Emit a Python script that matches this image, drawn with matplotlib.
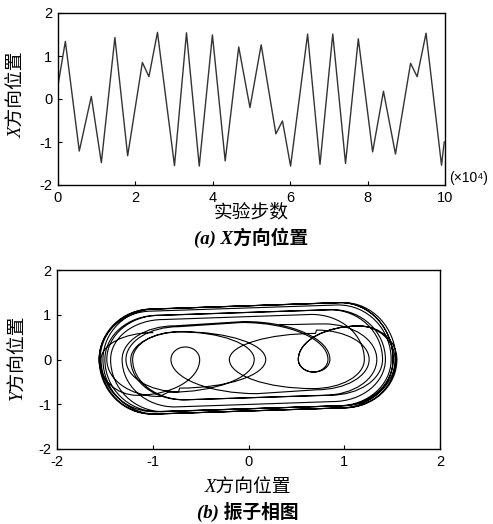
import matplotlib
matplotlib.use("Agg")
import matplotlib.pyplot as plt
from matplotlib.path import Path
from matplotlib.patches import PathPatch

# ---- data ----
# (a) turning points of the X position vs experiment step (step in units of 1e4)
steps = [0.00, 0.19, 0.55, 0.86, 1.12, 1.47, 1.80, 2.18, 2.35, 2.57, 3.01,
         3.32, 3.65, 3.99, 4.32, 4.67, 4.96, 5.25, 5.63, 5.80, 6.01, 6.45,
         6.77, 7.10, 7.43, 7.76, 8.13, 8.41, 8.72, 9.11, 9.28, 9.51, 9.91, 9.98]
x_pos = [0.32, 1.34, -1.21, 0.06, -1.48, 1.43, -1.32, 0.85, 0.52, 1.55, -1.55,
         1.54, -1.56, 1.49, -1.44, 1.21, -0.20, 1.26, -0.81, -0.51, -1.56, 1.51,
         -1.52, 1.51, -1.50, 1.40, -1.23, 0.18, -1.28, 0.83, 0.52, 1.53, -1.54, -1.00]
# (b) peak |Y| reached on each swing between consecutive turning points
y_swing = [0.75, 0.85, 0.62, 0.78, 1.05, 1.00, 0.80, 0.28, 0.75, 1.15, 1.20,
           1.15, 1.15, 1.10, 0.95, 0.65, 0.62, 0.72, 0.28, 0.80, 1.20, 1.15,
           1.20, 1.10, 1.05, 0.85, 0.62, 0.68, 0.78, 0.28, 0.75, 1.10, 0.60]
y_first = 0.78
y_last = 0.62

xticks_a = [0, 2, 4, 6, 8, 10]
yticks = [-2, -1, 0, 1, 2]
xticks_b = [-2, -1, 0, 1, 2]

# ---- figure ----
W, H = 493, 524
plt.rcParams['font.family'] = ['Liberation Sans', 'DejaVu Sans']
plt.rcParams['axes.unicode_minus'] = False
fig = plt.figure(figsize=(W / 100, H / 100), dpi=100)

lab_fam = ['Liberation Serif', 'Noto Sans CJK SC']
cjk_fam = ['Noto Sans CJK SC', 'DejaVu Sans']

def style_axes(ax):
    for s in ax.spines.values():
        s.set_linewidth(1.0)
        s.set_color('black')
    ax.tick_params(direction='in', length=3, width=0.8, labelsize=10.5,
                   top=False, right=False, pad=4)

# (a) time series
ax1 = fig.add_axes([58 / W, 1 - 185 / H, 387 / W, 172 / H])
ax1.plot(steps, x_pos, color='#333333', lw=1.0)
ax1.set_xlim(0, 10)
ax1.set_ylim(-2, 2)
ax1.set_xticks(xticks_a)
ax1.set_yticks(yticks)
style_axes(ax1)

fig.text(449 / W, 1 - 178 / H, '(×10⁴)', fontsize=10, ha='left', va='center',
         family=['Liberation Sans', 'DejaVu Sans'])
fig.text(251 / W, 1 - 212 / H, '实验步数', fontsize=13.5, ha='center', va='center',
         family=cjk_fam)
fig.text(251 / W, 1 - 238 / H, '(a) X方向位置', fontsize=13.5, ha='center',
         va='center', family=lab_fam, style='italic', weight='bold')
fig.text(18 / W, 1 - 95 / H, 'X方向位置', fontsize=13.5, ha='center', va='center',
         rotation=90, family=lab_fam, style='italic')

# (b) phase portrait built from the same turning points
K = 0.5523      # quarter-arc control factor


def turn_radius(x):
    # wide turns near the centre, tight turns at the outer walls
    return 0.55 if abs(x) > 1.1 else 0.9


skew = 0.06
verts = [(x_pos[0], y_first)]
codes = [Path.MOVETO]
n = len(x_pos) - 1
for k in range(n):
    xa, xb = x_pos[k], x_pos[k + 1]
    d = 1.0 if xb > xa else -1.0
    v1 = d * y_swing[k] * (1 - skew)
    v2 = d * y_swing[k] * (1 + skew)
    ra = 0.0 if k == 0 else turn_radius(xa)
    rb = 0.0 if k == n - 1 else turn_radius(xb)
    span = abs(xb - xa)
    if ra + rb >= span:
        f = span / (ra + rb)
        ra, rb = ra * f, rb * f
        v1 = v2 = d * y_swing[k]
    if k == 0:
        verts += [(xa + 0.5 * (xb - rb * d - xa), y_first),
                  (xb - d * rb * 1.3, v2), (xb - d * rb, v2)]
        codes += [Path.CURVE4] * 3
    else:
        verts += [(xa, K * v1), (xa + d * ra * (1 - K), v1), (xa + d * ra, v1)]
        codes += [Path.CURVE4] * 3
    if k == n - 1:
        verts += [(xb, y_last)]
        codes += [Path.LINETO]
    else:
        if abs((xb - d * rb) - (xa + d * ra)) > 1e-9:
            verts += [(xb - d * rb, v2)]
            codes += [Path.LINETO]
        verts += [(xb - d * rb * (1 - K), v2), (xb, K * v2), (xb, 0.0)]
        codes += [Path.CURVE4] * 3

ax2 = fig.add_axes([57 / W, 1 - 449 / H, 383 / W, 179 / H])
ax2.add_patch(PathPatch(Path(verts, codes), fill=False, edgecolor='black', lw=0.8))
ax2.set_xlim(-2, 2)
ax2.set_ylim(-2, 2)
ax2.set_xticks(xticks_b)
ax2.set_yticks(yticks)
style_axes(ax2)

fig.text(248 / W, 1 - 488 / H, 'X方向位置', fontsize=13.5, ha='center', va='center',
         family=lab_fam, style='italic')
fig.text(248 / W, 1 - 512 / H, '(b) 振子相图', fontsize=13.5, ha='center',
         va='center', family=lab_fam, style='italic', weight='bold')
fig.text(18 / W, 1 - 357 / H, 'Y方向位置', fontsize=13.5, ha='center', va='center',
         rotation=90, family=lab_fam, style='italic')

fig.savefig('out.png', dpi=100)
